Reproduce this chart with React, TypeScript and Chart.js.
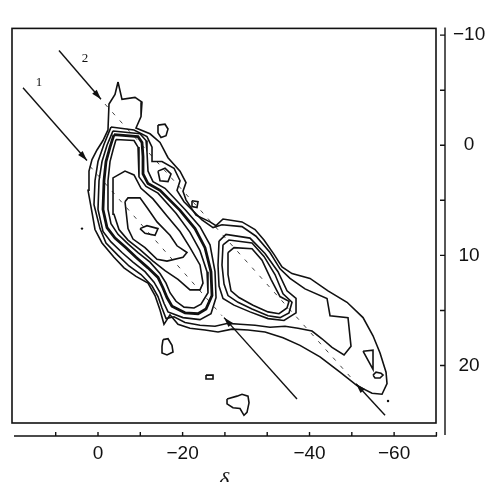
import React, { useEffect, useRef } from "react";
import { Chart, registerables } from "chart.js";
Chart.register(...registerables);

type P = [number, number];

// axis ticks
const xTickValues = [10, 0, -10, -20, -30, -40, -50, -60, -70, -80];
const xTickLabels = ["", "0", "", "\u221220", "", "", "\u221240", "", "\u221260", ""];
const yTickValues = [-10, -5, 0, 5, 10, 15, 20];
const yTickLabels = ["\u221210", "", "0", "", "10", "", "20"];

// contour lines (δ, y)
const outerContour: P[] = [
  [-4.73, -5.74], [-5.67, -4.17], [-8.75, -4.35], [-10.4, -3.91], [-10.17, -2.61], [-8.98, -1.57],
  [-12.29, -1.04], [-14.66, -0.26], [-16.55, 1.13], [-19.39, 2.35], [-20.8, 3.39], [-20.09, 4.17],
  [-20.8, 4.96], [-23.17, 6.35], [-26.48, 6.96], [-27.9, 7.3], [-29.55, 6.7], [-34.04, 6.96],
  [-37.12, 7.65], [-39.24, 8.61], [-41.61, 9.91], [-43.5, 11.04], [-45.86, 11.65], [-50.12, 12.09],
  [-54.37, 13.22], [-58.87, 14.26], [-62.65, 15.65], [-65.01, 17.3], [-66.67, 18.87], [-68.09, 20.61],
  [-68.32, 21.65], [-67.14, 22.61], [-64.78, 22.52], [-61.23, 21.83], [-57.21, 20.61], [-52.48, 19.22],
  [-47.75, 18.17], [-43.74, 17.48], [-39.48, 16.96], [-35.46, 16.78], [-31.68, 16.7], [-28.37, 16.96],
  [-25.29, 16.78], [-21.75, 16.61], [-18.91, 16.26], [-17.02, 15.39], [-15.6, 16.26], [-14.66, 14.96],
  [-13.48, 13.65], [-11.82, 12.52], [-8.98, 11.91], [-6.15, 11.13], [-3.78, 10.17], [-0.95, 8.87],
  [0.71, 7.65], [1.42, 6.09], [2.36, 4.09], [2.13, 2.35], [1.42, 1.3], [0.24, 0.43], [-1.18, -0.43],
  [-2.36, -1.39], [-2.6, -3.74], [-4.02, -4.61],
];
const secondContour: P[] = [
  [-3.07, -1.65], [-8.51, -1.39], [-11.58, -0.78], [-12.77, 0.17], [-12.77, 1.48], [-15.13, 1.48],
  [-17.97, 2.09], [-19.39, 3.22], [-18.68, 4.09], [-20.33, 5.13], [-24.58, 6.78], [-27.19, 7.48],
  [-29.31, 7.22], [-34.04, 7.39], [-37.35, 8.26], [-40.66, 9.74], [-43.03, 11.22], [-45.39, 12.09],
  [-48.94, 13.04], [-54.14, 13.91], [-54.85, 15.48], [-59.1, 15.65], [-59.81, 18.26], [-58.16, 19.04],
  [-55.32, 18.35], [-52.95, 17.57], [-50.59, 16.87], [-47.28, 16.61], [-44.21, 16.43], [-40.66, 16.52],
  [-37.12, 16.35], [-33.57, 16.26], [-30.73, 16.17], [-27.66, 16.43], [-24.11, 16.35], [-20.57, 16.09],
  [-17.97, 15.57], [-16.08, 15.74], [-15.13, 14.78], [-14.18, 13.74], [-12.77, 12.78], [-10.17, 11.74],
  [-7.33, 10.96], [-4.73, 10.0], [-1.89, 8.87], [-0.47, 7.57], [0.95, 5.39], [0.71, 3.22], [0, 1.48],
  [-1.42, -0.09],
];
const bunchOuter: P[] = [
  [-3.55, -1.3], [-9.93, -1.04], [-11.35, -0.43], [-11.58, 0.61], [-11.82, 2.35], [-13.0, 3.3],
  [-15.84, 3.91], [-20.57, 5.83], [-24.11, 7.39], [-26.48, 9.04], [-27.66, 11.48], [-27.9, 13.83],
  [-26.71, 15.3], [-24.11, 15.83], [-20.09, 15.65], [-16.55, 15.13], [-15.6, 14.35], [-14.66, 13.39],
  [-13.24, 12.43], [-11.11, 11.48], [-8.27, 10.61], [-5.67, 9.74], [-3.07, 8.78], [-1.18, 7.83],
  [0, 5.83], [-0.24, 3.22], [-0.95, 1.48], [-2.13, 0],
];
const bunchMid: P[] = [
  [-3.78, -0.96], [-9.46, -0.78], [-10.4, -0.26], [-10.64, 1.04], [-10.64, 2.61], [-11.82, 3.48],
  [-14.66, 4.09], [-19.39, 5.91], [-22.93, 7.57], [-25.29, 9.3], [-26.71, 11.48], [-26.95, 13.65],
  [-25.53, 14.87], [-23.64, 15.3], [-20.57, 15.22], [-17.49, 14.61], [-16.31, 13.83], [-15.37, 12.96],
  [-14.18, 12.0], [-11.82, 11.13], [-8.98, 10.17], [-6.62, 9.3], [-4.02, 8.43], [-2.13, 7.48],
  [-1.18, 5.83], [-1.42, 3.22], [-1.89, 1.48], [-2.84, 0.17],
];
const bunchInner: P[] = [
  [-4.26, -0.52], [-8.51, -0.43], [-9.46, 0.17], [-9.69, 1.48], [-9.69, 2.87], [-11.35, 3.74],
  [-14.18, 4.35], [-18.44, 6.17], [-21.75, 7.91], [-24.11, 9.57], [-25.77, 11.48], [-26.0, 13.39],
  [-24.35, 14.43], [-22.7, 14.78], [-20.33, 14.7], [-18.44, 14.17], [-17.02, 13.39], [-16.08, 12.52],
  [-14.66, 11.65], [-12.29, 10.61], [-9.46, 9.74], [-7.09, 8.96], [-4.73, 8.09], [-3.07, 7.13],
  [-2.36, 5.83], [-2.36, 3.22], [-2.84, 1.48], [-3.55, 0.43],
];
const leftCore1: P[] = [
  [-3.55, 4.52], [-3.55, 2.96], [-6.38, 2.35], [-8.51, 2.7], [-10.17, 3.91], [-13.0, 4.87],
  [-16.31, 6.43], [-19.39, 7.83], [-21.75, 9.3], [-24.11, 10.87], [-24.82, 12.52], [-24.11, 13.13],
  [-21.75, 13.13], [-18.91, 12.17], [-15.84, 11.39], [-13.0, 10.52], [-9.93, 9.48], [-7.09, 8.61],
  [-4.96, 7.65], [-3.78, 6.26],
];
const leftCore2: P[] = [
  [-6.38, 5.13], [-7.09, 4.78], [-9.93, 4.78], [-11.58, 5.65], [-13.95, 6.96], [-17.02, 8.17],
  [-18.68, 9.13], [-21.04, 9.74], [-20.09, 10.17], [-16.31, 10.52], [-13.95, 10.35], [-11.11, 9.3],
  [-8.27, 8.52], [-7.09, 7.57],
];
const leftCore3: P[] = [[-9.93, 7.57], [-11.58, 7.3], [-14.18, 7.57], [-13.48, 8.17], [-11.11, 8.0]];
const knotLoop: P[] = [[-14.18, 2.35], [-15.84, 2.09], [-17.26, 2.61], [-16.55, 3.3], [-14.66, 3.22]];
const rightBlob0: P[] = [
  [-28.61, 8.7], [-30.26, 8.09], [-35.93, 8.43], [-39.48, 9.83], [-42.55, 11.48], [-44.68, 13.22],
  [-46.81, 13.91], [-46.81, 15.22], [-43.97, 15.91], [-40.19, 15.74], [-35.93, 15.13], [-32.15, 14.52],
  [-29.55, 13.91], [-28.61, 12.78], [-28.37, 10.87],
];
const rightBlob1: P[] = [
  [-29.55, 9.04], [-30.97, 8.61], [-36.41, 8.87], [-39.24, 10.09], [-41.84, 11.74], [-43.74, 13.48],
  [-45.86, 14.26], [-45.15, 15.22], [-43.03, 15.65], [-40.19, 15.48], [-36.41, 14.87], [-33.1, 14.26],
  [-30.73, 13.65], [-29.79, 12.61], [-29.31, 10.87],
];
const rightBlob2: P[] = [
  [-30.73, 9.74], [-32.15, 9.3], [-36.41, 9.39], [-38.77, 10.43], [-40.9, 12.17], [-43.03, 13.74],
  [-45.15, 14.17], [-44.68, 14.78], [-42.79, 15.3], [-40.19, 15.13], [-36.64, 14.52], [-33.33, 13.83],
  [-31.44, 13.22], [-30.73, 11.74],
];
const tailTriangle: P[] = [[-62.65, 18.7], [-65.01, 18.61], [-65.01, 20.35]];
const tailEllipse: P[] = [[-65.01, 20.87], [-65.72, 20.61], [-66.9, 20.7], [-67.38, 20.87], [-66.67, 21.13], [-65.48, 21.13]];
const islandA: P[] = [[-14.18, -1.83], [-15.84, -1.91], [-16.55, -1.48], [-16.08, -0.87], [-14.89, -0.7], [-14.18, -1.13]];
const islandB: P[] = [[-22.22, 5.04], [-23.64, 5.13], [-23.4, 5.65], [-22.22, 5.57]];
const islandC: P[] = [[-15.37, 17.65], [-16.55, 17.57], [-17.49, 18.17], [-17.73, 18.78], [-16.31, 19.04], [-15.13, 18.87], [-15.13, 18.26]];
const islandD: P[] = [[-25.53, 20.87], [-27.19, 20.87], [-27.19, 21.22], [-25.53, 21.22]];
const islandE: P[] = [
  [-30.5, 23.04], [-32.86, 22.78], [-34.04, 22.61], [-35.46, 22.78], [-35.7, 23.39], [-35.22, 24.26],
  [-34.51, 24.52], [-33.57, 23.91], [-31.91, 23.83], [-30.5, 23.48],
];
const strayDots: P[] = [[3.78, 7.57], [-68.56, 23.22]];

// ridge lines (dashed) and arrows
const ridgeLine1: P[] = [[1.89, 1.91], [-29.31, 15.48]];
const ridgeLine2: P[] = [[-1.65, -3.74], [-60.28, 21.3]];
const arrow1: P[] = [[17.73, -5.22], [2.6, 1.39]];
const arrow2: P[] = [[9.22, -8.61], [-0.71, -4.17]];
const arrow3: P[] = [[-47.04, 23.04], [-29.79, 15.65]];
const arrow4: P[] = [[-67.85, 24.52], [-60.99, 21.65]];
const lineLabels = ["1", "2"];
const lineLabelPos: P[] = [[13.95, -5.65], [3.07, -7.83]];

const INK = "#111";

export default function App() {
  const ref = useRef<HTMLCanvasElement>(null);
  useEffect(() => {
    const canvas = ref.current;
    if (!canvas) return;
    const toXY = (p: P[]) => p.map(([x, y]) => ({ x, y }));
    const closed = (p: P[]) => toXY([...p, p[0]]);
    const contour = (p: P[], w = 1.6) => ({
      data: closed(p), showLine: true, borderColor: INK, borderWidth: w,
      pointRadius: 0, fill: false, tension: 0,
    });
    const thin = [outerContour, secondContour, bunchOuter, bunchInner, leftCore1, leftCore2, leftCore3,
      knotLoop, rightBlob0, rightBlob1, rightBlob2, tailTriangle, tailEllipse,
      islandA, islandB, islandC, islandD, islandE];
    const datasets: any[] = [
      ...thin.map((p) => contour(p)),
      contour(bunchMid, 2.8),
      ...[ridgeLine1, ridgeLine2].map((p) => ({
        data: toXY(p), showLine: true, borderColor: "#444", borderWidth: 1, borderDash: [4, 7],
        pointRadius: 0, fill: false,
      })),
      ...[arrow1, arrow2, arrow3, arrow4].map((p) => ({
        data: toXY(p), showLine: true, borderColor: INK, borderWidth: 1.4, pointRadius: 0, fill: false, arrow: true,
      })),
      { data: toXY(strayDots), showLine: false, pointRadius: 1.2, backgroundColor: INK, borderWidth: 0 },
    ];

    const decor = {
      id: "decor",
      afterDatasetsDraw(chart: any) {
        const { ctx, chartArea: a, scales } = chart;
        const xs = scales.x, ys = scales.y;
        ctx.save();
        ctx.strokeStyle = INK;
        ctx.fillStyle = INK;
        ctx.lineWidth = 1.6;
        ctx.strokeRect(a.left, a.top, a.right - a.left, a.bottom - a.top);
        ctx.lineWidth = 1.4;
        const by = a.bottom + 13;
        ctx.beginPath();
        ctx.moveTo(a.left + 2, by);
        ctx.lineTo(a.right + 1, by);
        xTickValues.forEach((v) => {
          const px = xs.getPixelForValue(v);
          ctx.moveTo(px, by);
          ctx.lineTo(px, by - 4);
        });
        ctx.stroke();
        const rx = a.right + 9;
        ctx.beginPath();
        ctx.moveTo(rx, a.top - 1);
        ctx.lineTo(rx, a.bottom + 12);
        yTickValues.forEach((v) => {
          const py = ys.getPixelForValue(v);
          ctx.moveTo(rx, py);
          ctx.lineTo(rx - 5, py);
        });
        ctx.stroke();
        chart.data.datasets.forEach((ds: any, i: number) => {
          if (!ds.arrow) return;
          const pts = chart.getDatasetMeta(i).data;
          const p0 = pts[pts.length - 2], p1 = pts[pts.length - 1];
          const dx = p1.x - p0.x, dy = p1.y - p0.y;
          const len = Math.hypot(dx, dy) || 1;
          const ux = dx / len, uy = dy / len;
          const L = 10, W = 3;
          ctx.beginPath();
          ctx.moveTo(p1.x, p1.y);
          ctx.lineTo(p1.x - ux * L - uy * W, p1.y - uy * L + ux * W);
          ctx.lineTo(p1.x - ux * L + uy * W, p1.y - uy * L - ux * W);
          ctx.closePath();
          ctx.fill();
        });
        ctx.font = '13px "Liberation Serif"';
        ctx.textAlign = "center";
        ctx.textBaseline = "middle";
        lineLabels.forEach((t, i) => {
          ctx.fillText(t, xs.getPixelForValue(lineLabelPos[i][0]), ys.getPixelForValue(lineLabelPos[i][1]));
        });
        ctx.restore();
      },
    };

    const tickFont = { family: '"Liberation Sans", Arial, sans-serif', size: 19 };
    const chart = new Chart(canvas, {
      type: "scatter",
      data: { datasets },
      options: {
        animation: false,
        responsive: false,
        devicePixelRatio: 1,
        layout: { padding: { left: 12, top: 11, right: 0, bottom: 0 } },
        plugins: { legend: { display: false }, tooltip: { enabled: false } },
        scales: {
          x: {
            type: "linear", position: "bottom", reverse: true, min: -79.9, max: 20.33,
            grid: { display: false, drawTicks: false }, border: { display: false },
            afterBuildTicks: (s: any) => { s.ticks = xTickValues.map((v) => ({ value: v })); },
            afterFit: (s: any) => { s.height = 59; },
            ticks: {
              autoSkip: false, maxRotation: 0, minRotation: 0, padding: 19, font: tickFont, color: INK,
              callback: (v: any) => { const i = xTickValues.indexOf(Number(v)); return i >= 0 ? xTickLabels[i] : ""; },
            },
            title: {
              display: true, text: "\u03b4", color: INK,
              font: { family: '"Liberation Serif", serif', size: 22, style: "italic" },
              padding: { top: 0, bottom: -12 },
            },
          },
          y: {
            type: "linear", position: "right", reverse: true, min: -10.61, max: 25.22,
            grid: { display: false, drawTicks: false }, border: { display: false },
            afterBuildTicks: (s: any) => { s.ticks = yTickValues.map((v) => ({ value: v })); },
            afterFit: (s: any) => { s.width = 58; },
            ticks: {
              autoSkip: false, padding: 17, crossAlign: "center", font: tickFont, color: INK,
              callback: (v: any) => { const i = yTickValues.indexOf(Number(v)); return i >= 0 ? yTickLabels[i] : ""; },
            },
          },
        },
      },
      plugins: [decor],
    } as any);
    return () => chart.destroy();
  }, []);

  return (
    <div style={{ position: "absolute", left: 0, top: 0, width: 494, height: 482, background: "#fff" }}>
      <canvas ref={ref} width={494} height={482} style={{ display: "block" }} />
    </div>
  );
}
